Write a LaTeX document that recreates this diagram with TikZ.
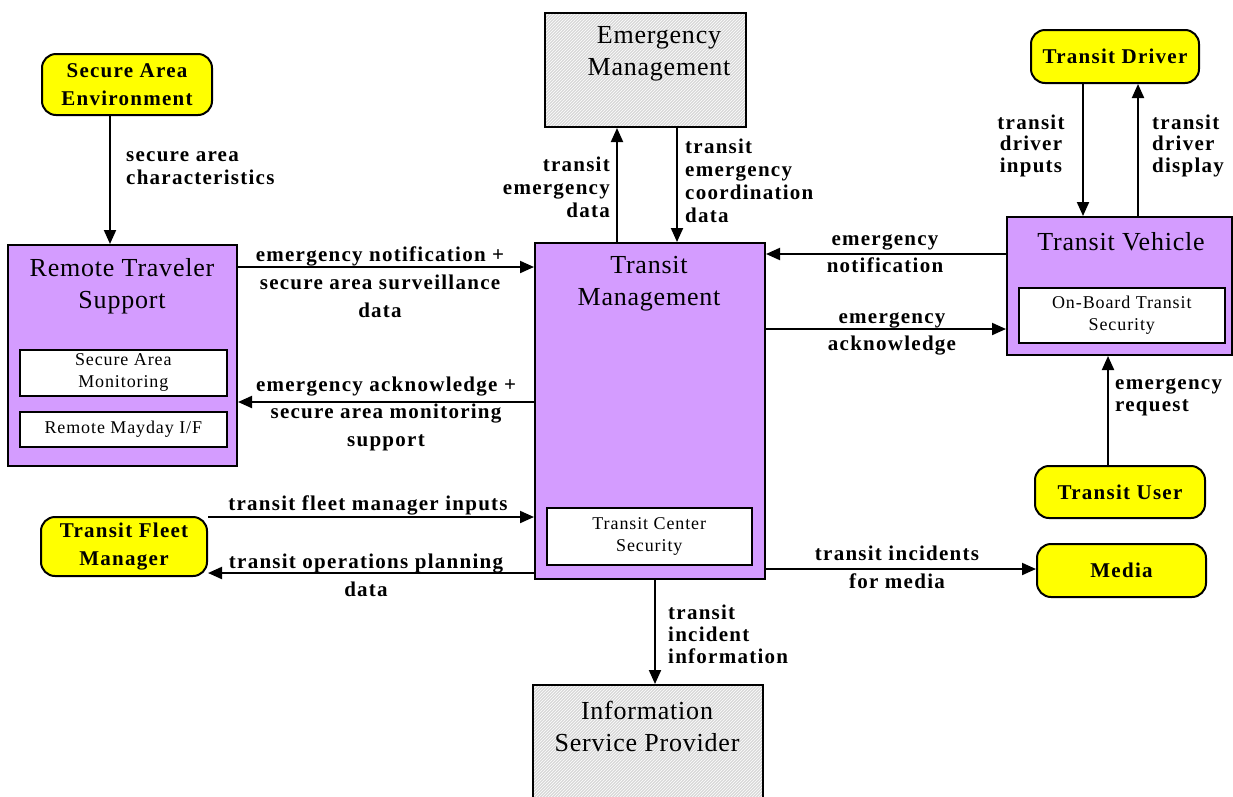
\documentclass[tikz,border=0pt]{standalone}
\usepackage{fontspec}
\setmainfont{Liberation Serif}
\newfontfamily\lblf[LetterSpace=6]{Liberation Serif}
\newfontfamily\ttlf[LetterSpace=3]{Liberation Serif}
\newfontfamily\innerf[LetterSpace=5]{Liberation Serif}
\usetikzlibrary{arrows.meta,patterns}
\definecolor{pur}{HTML}{D49CFF}
\definecolor{yel}{HTML}{FFFF00}
\definecolor{hatchbg}{HTML}{D8D8D8}
\tikzset{
  box/.style={draw=black, line width=2pt, anchor=north west, inner sep=0pt},
  purbox/.style={box, fill=pur},
  inbox/.style={box, fill=white, line width=1.6pt},
  hatch/.style={box, preaction={fill=hatchbg}, pattern=north east lines, pattern color=white},
  ext/.style={box, fill=yel, rounded corners=14pt},
  ttl/.style={font=\ttlf\fontsize{26}{32}\selectfont, align=center, inner sep=0pt},
  intxt/.style={font=\innerf\fontsize{18}{22}\selectfont, align=center, inner sep=0pt},
  exttxt/.style={font=\lblf\bfseries\fontsize{21}{28}\selectfont, align=center, inner sep=0pt},
  lbl/.style={font=\lblf\bfseries\fontsize{21}{23}\selectfont, inner sep=0pt},
  arr/.style={line width=2pt, -{Triangle[length=14pt,width=12pt]}}
}
\begin{document}
\begin{tikzpicture}[x=1pt,y=-1pt]
\clip (0,0) rectangle (1233,796);
\fill[white] (0,0) rectangle (1233,796);
% boxes
\node[hatch, minimum width=201pt, minimum height=114pt] (em) at (544,12) {};
\node[ttl] (emt) at (659,54) {Emergency\\Management};
\node[ext, minimum width=170pt, minimum height=61pt] (sae) at (41,53) {};
\node[exttxt] (saet) at (sae.center) {Secure Area\\Environment};
\node[ext, minimum width=168pt, minimum height=53pt] (td) at (1030,29) {};
\node[exttxt] (tdt) at (td.center) {Transit Driver};
\node[purbox, minimum width=229pt, minimum height=221pt] (rts) at (7,244) {};
\node[ttl] (rtst) at (122,286) {Remote Traveler\\Support};
\node[inbox, minimum width=207pt, minimum height=46pt] (sam) at (19,349) {};
\node[intxt] (samt) at (sam.center) {Secure Area\\Monitoring};
\node[inbox, minimum width=207pt, minimum height=35pt] (rmi) at (19,411) {};
\node[intxt] (rmit) at (rmi.center) {Remote Mayday I/F};
\node[purbox, minimum width=230pt, minimum height=336pt] (tm) at (534,242) {};
\node[ttl] (tmt) at (649,284) {Transit\\Management};
\node[inbox, minimum width=205pt, minimum height=57pt] (tcs) at (546,507) {};
\node[intxt] (tcst) at (tcs.center) {Transit Center\\Security};
\node[purbox, minimum width=225pt, minimum height=138pt] (tv) at (1006,216) {};
\node[ttl] (tvt) at (1121,242) {Transit Vehicle};
\node[inbox, minimum width=206pt, minimum height=55pt] (obts) at (1018,287) {};
\node[intxt] (obtst) at (obts.center) {On-Board Transit\\Security};
\node[ext, minimum width=170pt, minimum height=52pt] (tu) at (1034,465) {};
\node[exttxt] (tut) at (tu.center) {Transit User};
\node[ext, minimum width=166pt, minimum height=59pt] (tfm) at (40,516) {};
\node[exttxt] (tfmt) at (tfm.center) {Transit Fleet\\Manager};
\node[ext, minimum width=169pt, minimum height=53pt] (med) at (1036,543) {};
\node[exttxt] (medt) at (med.center) {Media};
\node[hatch, minimum width=230pt, minimum height=140pt] (isp) at (532,684) {};
\node[ttl] (ispt) at (647,726) {Information\\Service Provider};
% helper coordinates
\coordinate (x110) at (110,0);
\coordinate (x617) at (617,0);
\coordinate (x677) at (677,0);
\coordinate (x655) at (655,0);
\coordinate (x1083) at (1083,0);
\coordinate (x1138) at (1138,0);
\coordinate (x1108) at (1108,0);
\coordinate (y267) at (0,267);
\coordinate (y402) at (0,402);
\coordinate (y516) at (0,517);
\coordinate (y573) at (0,573);
\coordinate (y254) at (0,254);
\coordinate (y329) at (0,329);
\coordinate (y569) at (0,569);
% connectors
\draw[arr] (sae.south -| x110) -- (rts.north -| x110);
\draw[arr] (rts.east |- y267) -- (tm.west |- y267);
\draw[arr] (tm.west |- y402) -- (rts.east |- y402);
\draw[arr] (tfm.east |- y516) -- (tm.west |- y516);
\draw[arr] (tm.west |- y573) -- (tfm.east |- y573);
\draw[arr] (tm.north -| x617) -- (em.south -| x617);
\draw[arr] (em.south -| x677) -- (tm.north -| x677);
\draw[arr] (tv.west |- y254) -- (tm.east |- y254);
\draw[arr] (tm.east |- y329) -- (tv.west |- y329);
\draw[arr] (td.south -| x1083) -- (tv.north -| x1083);
\draw[arr] (tv.north -| x1138) -- (td.south -| x1138);
\draw[arr] (tu.north -| x1108) -- (tv.south -| x1108);
\draw[arr] (tm.east |- y569) -- (med.west |- y569);
\draw[arr] (tm.south -| x655) -- (isp.north -| x655);
% labels
\node[lbl, anchor=west, align=left] (l1) at (126,168.5) {secure area\\characteristics};
\node[lbl, align=center, font=\lblf\bfseries\fontsize{21}{28}\selectfont] (l2) at (380,282) {emergency notification +\\secure area surveillance\\data};
\node[lbl, align=center, font=\lblf\bfseries\fontsize{21}{27.5}\selectfont] (l3) at (386,413.5) {emergency acknowledge +\\secure area monitoring\\support};
\node[lbl, align=center] (l4) at (368,505) {transit fleet manager inputs};
\node[lbl, align=center, font=\lblf\bfseries\fontsize{21}{28}\selectfont] (l5) at (366,575) {transit operations planning\\data};
\node[lbl, anchor=east, align=right] (l6) at (610,187) {transit\\emergency\\data};
\node[lbl, anchor=west, align=left] (l7) at (685,181) {transit\\emergency\\coordination\\data};
\node[lbl, align=center, font=\lblf\bfseries\fontsize{21}{27}\selectfont] (l8) at (885,253.5) {emergency\\notification};
\node[lbl, align=center, font=\lblf\bfseries\fontsize{21}{27}\selectfont] (l9) at (892,333.5) {emergency\\acknowledge};
\node[lbl, align=center, font=\lblf\bfseries\fontsize{21}{21.5}\selectfont] (l10) at (1031,145.5) {transit\\driver\\inputs};
\node[lbl, anchor=west, align=left, font=\lblf\bfseries\fontsize{21}{21.5}\selectfont] (l11) at (1152,145.5) {transit\\driver\\display};
\node[lbl, anchor=west, align=left, font=\lblf\bfseries\fontsize{21}{22}\selectfont] (l12) at (1115,397) {emergency\\request};
\node[lbl, align=center, font=\lblf\bfseries\fontsize{21}{28}\selectfont] (l13) at (897,567) {transit incidents\\for media};
\node[lbl, anchor=west, align=left, font=\lblf\bfseries\fontsize{21}{22}\selectfont] (l14) at (668,634) {transit\\incident\\information};
\end{tikzpicture}
\end{document}
